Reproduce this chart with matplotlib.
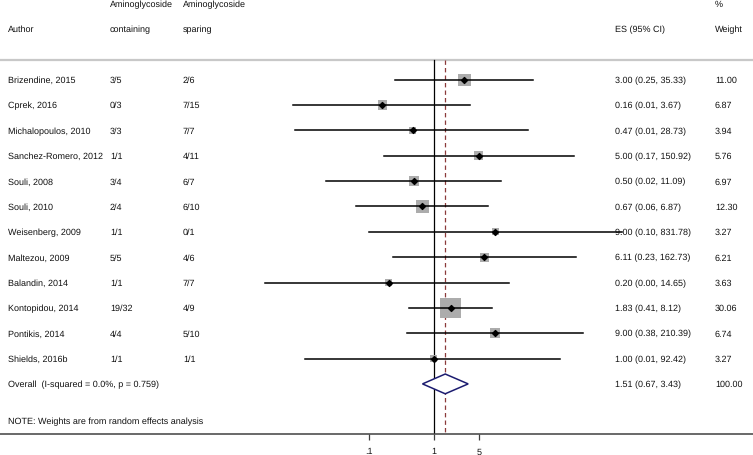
import numpy as np
import matplotlib
matplotlib.use("Agg")
import matplotlib.pyplot as plt
from matplotlib.patches import Polygon

plt.rcParams['font.family'] = ['Liberation Sans', 'DejaVu Sans']
plt.rcParams['text.hinting'] = 'no_hinting'

authors = ["Brizendine, 2015", "Cprek, 2016", "Michalopoulos, 2010", "Sanchez-Romero, 2012",
           "Souli, 2008", "Souli, 2010", "Weisenberg, 2009", "Maltezou, 2009",
           "Balandin, 2014", "Kontopidou, 2014", "Pontikis, 2014", "Shields, 2016b"]
containing = ["3/5", "0/3", "3/3", "1/1", "3/4", "2/4", "1/1", "5/5", "1/1", "19/32", "4/4", "1/1"]
sparing = ["2/6", "7/15", "7/7", "4/11", "6/7", "6/10", "0/1", "4/6", "7/7", "4/9", "5/10", "1/1"]
es = [3.00, 0.16, 0.47, 5.00, 0.50, 0.67, 9.00, 6.11, 0.20, 1.83, 9.00, 1.00]
lo = [0.25, 0.0066, 0.0071, 0.17, 0.0214, 0.062, 0.10, 0.23, 0.0024, 0.41, 0.38, 0.01]
hi = [35.33, 3.67, 28.73, 150.92, 11.09, 6.87, 831.78, 162.73, 14.65, 8.12, 210.39, 92.42]
weight = [11.00, 6.87, 3.94, 5.76, 6.97, 12.30, 3.27, 6.21, 3.63, 30.06, 6.74, 3.27]
overall_es, overall_lo, overall_hi = 1.51, 0.67, 3.43
overall_label = "Overall  (I-squared = 0.0%, p = 0.759)"
note = "NOTE: Weights are from random effects analysis"
xticks = [0.1, 1, 5]
xticklabels = [".1", "1", "5"]

W, H = 753, 456
fig = plt.figure(figsize=(W / 100, H / 100), dpi=100)
ax_bottom = 435
ax = fig.add_axes([0, 1 - ax_bottom / H, 1, ax_bottom / H])

px_per_dec = 64.4
x1px = 433.7
ax.set_xscale('log')
ax.set_xlim(10 ** (-x1px / px_per_dec), 10 ** ((W - x1px) / px_per_dec))
row0, rowsp = 80.7, 25.35
ax.set_ylim((ax_bottom - row0) / rowsp, -row0 / rowsp)

def px2x(px):
    return 10 ** ((px - x1px) / px_per_dec)

def pxy(py):
    return (py - row0) / rowsp

fs = 6.5
tc = '#111111'
n = len(authors)
sep_y = pxy(61)

# separator line
ax.axhline(sep_y, color='#c8c8c8', lw=1.6, zorder=1)
# null line and overall line
ax.plot([1, 1], [sep_y, pxy(ax_bottom)], color='black', lw=0.9, zorder=2)
ax.plot([overall_es, overall_es], [sep_y, pxy(ax_bottom)], color='#8b3a3a', lw=0.9,
        ls=(0, (3.5, 2.5)), zorder=2)

ys = np.arange(n)
for i in range(n):
    ax.plot([lo[i], hi[i]], [ys[i], ys[i]], color='black', lw=1.1, zorder=4)
ax.scatter(es, ys, s=[7.2 * w for w in weight], marker='s', color='#acacac',
           edgecolors='none', zorder=3)
ax.scatter(es, ys, s=9, marker='D', color='black', zorder=5)

# overall diamond
oy = n
hh = 0.39
diamond = Polygon([[overall_lo, oy], [overall_es, oy - hh], [overall_hi, oy],
                   [overall_es, oy + hh]], closed=True, fill=True, facecolor='white',
                  edgecolor='#1c1c70', lw=1.1, zorder=6)
ax.add_patch(diamond)

def col(px):
    return px2x(px)

for i in range(n):
    ax.text(col(8), ys[i], authors[i], fontsize=fs, va='center', color=tc)
    ax.text(col(110), ys[i], containing[i], fontsize=fs, va='center', color=tc)
    ax.text(col(183), ys[i], sparing[i], fontsize=fs, va='center', color=tc)
    ax.text(col(615), ys[i], f"{es[i]:.2f} ({lo[i]:.2f}, {hi[i]:.2f})", fontsize=fs,
            va='center', color=tc)
    ax.text(col(715), ys[i], f"{weight[i]:.2f}", fontsize=fs, va='center', color=tc)

ax.text(col(8), oy, overall_label, fontsize=fs, va='center', color=tc)
ax.text(col(615), oy, f"{overall_es:.2f} ({overall_lo:.2f}, {overall_hi:.2f})",
        fontsize=fs, va='center', color=tc)
ax.text(col(715), oy, "100.00", fontsize=fs, va='center', color=tc)
ax.text(col(8), pxy(422), note, fontsize=fs, va='center', color=tc)

# headers
ax.text(col(110), pxy(5), "Aminoglycoside", fontsize=fs, va='center', color=tc)
ax.text(col(183), pxy(5), "Aminoglycoside", fontsize=fs, va='center', color=tc)
ax.text(col(8), pxy(30), "Author", fontsize=fs, va='center', color=tc)
ax.text(col(110), pxy(30), "containing", fontsize=fs, va='center', color=tc)
ax.text(col(183), pxy(30), "sparing", fontsize=fs, va='center', color=tc)
ax.text(col(615), pxy(30), "ES (95% CI)", fontsize=fs, va='center', color=tc)
ax.text(col(715), pxy(5), "%", fontsize=fs, va='center', color=tc)
ax.text(col(715), pxy(30), "Weight", fontsize=fs, va='center', color=tc)

for s in ['top', 'left', 'right']:
    ax.spines[s].set_visible(False)
ax.spines['bottom'].set_color('#404040')
ax.spines['bottom'].set_linewidth(1.1)
ax.set_yticks([])
ax.set_xticks(xticks)
ax.set_xticklabels(xticklabels)
ax.minorticks_off()
ax.tick_params(axis='x', which='major', length=4.3, width=0.9, color='#404040',
               labelsize=fs, pad=5, labelcolor=tc)
ax.patch.set_alpha(0)

fig.savefig("out.png", dpi=100)
